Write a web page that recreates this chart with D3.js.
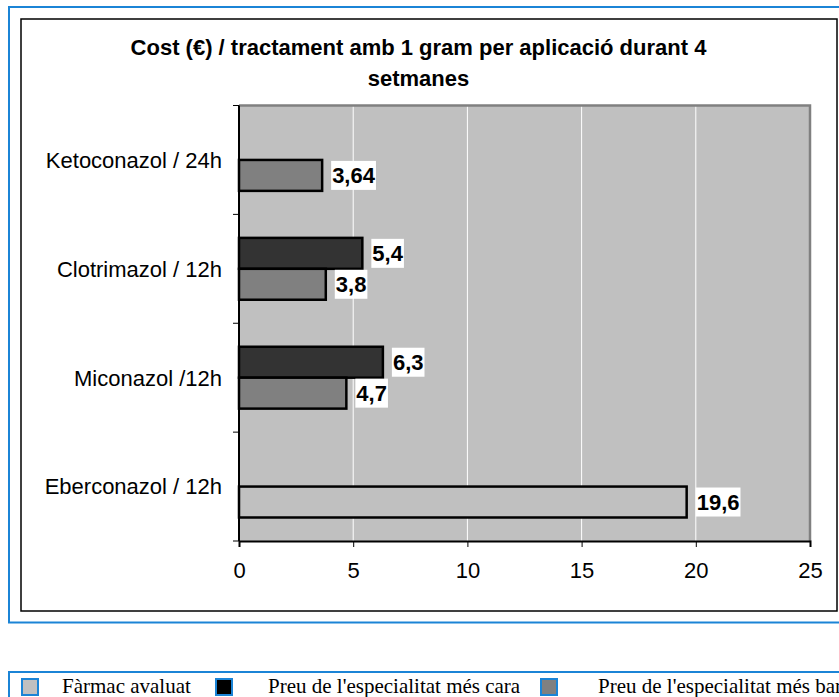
<!DOCTYPE html>
<html>
<head>
<meta charset="utf-8">
<script src="https://cdnjs.cloudflare.com/ajax/libs/d3/7.8.5/d3.min.js"></script>
<style>
  html, body { margin: 0; padding: 0; background: #ffffff; }
  svg { display: block; }
</style>
</head>
<body>
<div id="chart"></div>
<script>
// ---- data ----
const categories = ["Ketoconazol / 24h", "Clotrimazol / 12h", "Miconazol /12h", "Eberconazol / 12h"];
const farmacAvaluat = [null, null, null, 19.6];
const preuCara = [null, 5.4, 6.3, null];
const preuBarata = [3.64, 3.8, 4.7, null];
const xTicks = [0, 5, 10, 15, 20, 25];
const seriesNames = ["Fàrmac avaluat", "Preu de l'especialitat més cara", "Preu de l'especialitat més barata"];
const titleLines = ["Cost (€) / tractament amb 1 gram per aplicació durant 4", "setmanes"];

// ---- layout ----
const W = 839, H = 697;
const plot = { left: 239, right: 810, top: 105.5, bottom: 541 };
const blue = "#1b84d6";
const colors = { avaluat: "#c0c0c0", cara: "#333333", barata: "#808080" };

const svg = d3.select("#chart").append("svg").attr("width", W).attr("height", H);

// outer frames
svg.append("rect").attr("x", 9).attr("y", 7).attr("width", 850).attr("height", 615.5)
  .attr("fill", "none").attr("stroke", blue).attr("stroke-width", 2);
svg.append("rect").attr("x", 21).attr("y", 19).attr("width", 816).attr("height", 592)
  .attr("fill", "none").attr("stroke", "#000").attr("stroke-width", 1.5);

// scales
const x = d3.scaleLinear().domain([0, 25]).range([plot.left, plot.right]);
const y = d3.scaleBand().domain(categories).range([plot.top, plot.bottom]).padding(0);
const slot = d3.scaleBand().domain(["top", "bottom"]).range([0, y.bandwidth()]).paddingInner(0).paddingOuter(0.76);

// plot background
svg.append("rect").attr("x", plot.left).attr("y", plot.top)
  .attr("width", plot.right - plot.left).attr("height", plot.bottom - plot.top)
  .attr("fill", "#c0c0c0");

// gridlines
svg.append("g").selectAll("line").data(xTicks.filter(d => d > 0 && d < 25)).join("line")
  .attr("x1", d => x(d)).attr("x2", d => x(d))
  .attr("y1", plot.top).attr("y2", plot.bottom)
  .attr("stroke", "#ffffff").attr("stroke-width", 1);

// plot border top/right
svg.append("path")
  .attr("d", `M${plot.left},${plot.top}H${plot.right}V${plot.bottom}`)
  .attr("fill", "none").attr("stroke", "#808080").attr("stroke-width", 2.5);

// bars
const bars = [];
categories.forEach((c, i) => {
  if (farmacAvaluat[i] != null) bars.push({ cat: c, v: farmacAvaluat[i], slot: "bottom", color: colors.avaluat });
  if (preuCara[i] != null) bars.push({ cat: c, v: preuCara[i], slot: "top", color: colors.cara });
  if (preuBarata[i] != null) bars.push({ cat: c, v: preuBarata[i], slot: "bottom", color: colors.barata });
});

svg.append("g").selectAll("rect").data(bars).join("rect")
  .attr("x", x(0))
  .attr("y", d => y(d.cat) + slot(d.slot))
  .attr("width", d => x(d.v) - x(0))
  .attr("height", slot.bandwidth())
  .attr("fill", d => d.color)
  .attr("stroke", "#000").attr("stroke-width", 2.5);

// data labels
const fmt = v => String(v).replace(".", ",");
const labelFont = "bold 22px 'Liberation Sans', Arial, sans-serif";
const lg = svg.append("g");
bars.forEach(d => {
  const cy = y(d.cat) + slot(d.slot) + slot.bandwidth() / 2;
  const tx = x(d.v) + 10;
  const t = lg.append("text")
    .attr("x", tx).attr("y", cy).attr("dy", "0.36em")
    .style("font", labelFont).attr("fill", "#000")
    .text(fmt(d.v));
  const w = t.node().getComputedTextLength();
  lg.insert("rect", "text").attr("x", tx - 1).attr("y", cy - 14.5)
    .attr("width", w + 2).attr("height", 29).attr("fill", "#fff");
});

// axes
const yAxisG = svg.append("g");
yAxisG.append("line").attr("x1", plot.left).attr("x2", plot.left)
  .attr("y1", plot.top).attr("y2", plot.bottom).attr("stroke", "#000").attr("stroke-width", 2);
const bounds = categories.map(c => y(c)).concat([plot.bottom]);
yAxisG.selectAll("line.tick").data(bounds).join("line").attr("class", "tick")
  .attr("x1", plot.left - 6).attr("x2", plot.left)
  .attr("y1", d => d).attr("y2", d => d).attr("stroke", "#000").attr("stroke-width", 1);
yAxisG.selectAll("text").data(categories).join("text")
  .attr("x", 222).attr("y", d => y(d) + y.bandwidth() / 2).attr("dy", "0.36em")
  .attr("text-anchor", "end")
  .style("font", "22px 'Liberation Sans', Arial, sans-serif").attr("fill", "#000")
  .text(d => d);

const xAxis = d3.axisBottom(x).tickValues(xTicks).tickSize(6).tickPadding(15).tickFormat(d => d);
const xg = svg.append("g").attr("transform", `translate(0,${plot.bottom})`).call(xAxis);
xg.select(".domain").attr("stroke", "#000").attr("stroke-width", 2);
xg.selectAll(".tick line").attr("stroke", "#000");
xg.selectAll(".tick text").style("font", "22px 'Liberation Sans', Arial, sans-serif").attr("fill", "#000");

// title
svg.append("g").selectAll("text").data(titleLines).join("text")
  .attr("x", 418.5).attr("y", (d, i) => 55 + i * 31)
  .attr("text-anchor", "middle")
  .style("font", "bold 22px 'Liberation Sans', Arial, sans-serif").attr("fill", "#000")
  .text(d => d);

// legend
svg.append("rect").attr("x", 9).attr("y", 672).attr("width", 850).attr("height", 60)
  .attr("fill", "none").attr("stroke", blue).attr("stroke-width", 2);
const legendItems = [
  { name: seriesNames[0], color: colors.avaluat, sx: 22, tx: 62 },
  { name: seriesNames[1], color: "#000000", sx: 216, tx: 268 },
  { name: seriesNames[2], color: colors.barata, sx: 541, tx: 598 }
];
const leg = svg.append("g");
legendItems.forEach(it => {
  leg.append("rect").attr("x", it.sx).attr("y", 679).attr("width", 16).attr("height", 16)
    .attr("fill", it.color).attr("stroke", blue).attr("stroke-width", 2);
  leg.append("text").attr("x", it.tx).attr("y", 686).attr("dy", "0.35em")
    .style("font", "21px 'Liberation Serif', 'Times New Roman', serif").attr("fill", "#000")
    .text(it.name);
});
</script>
</body>
</html>
